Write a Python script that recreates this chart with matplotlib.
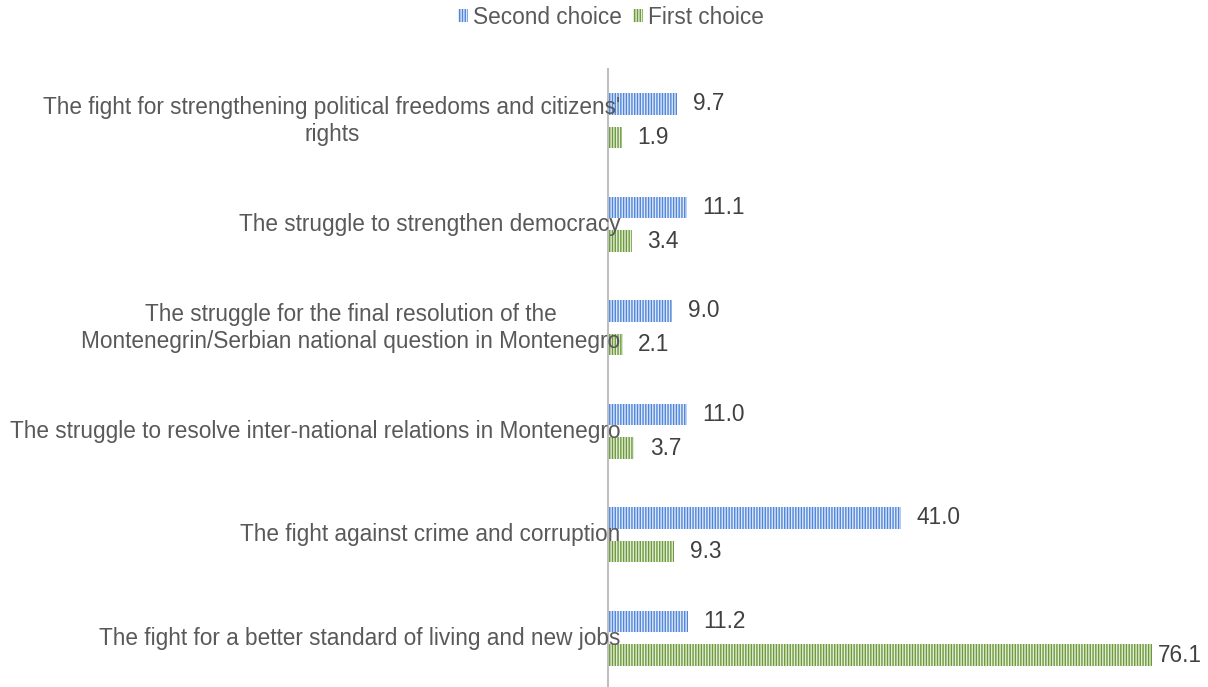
import matplotlib
matplotlib.use('Agg')
from matplotlib import pyplot as plt
import numpy as np

# данные графика (сверху вниз)
categories = [
    "The fight for strengthening political freedoms and citizens'\nrights",
    "The struggle to strengthen democracy",
    "The struggle for the final resolution of the\nMontenegrin/Serbian national question in Montenegro",
    "The struggle to resolve inter-national relations in Montenegro",
    "The fight against crime and corruption",
    "The fight for a better standard of living and new jobs",
]
second_choice = [9.7, 11.1, 9.0, 11.0, 41.0, 11.2]
first_choice = [1.9, 3.4, 2.1, 3.7, 9.3, 76.1]
series_names = ['Second choice', 'First choice']

plt.rcParams['font.family'] = ['Liberation Sans', 'DejaVu Sans']
plt.rcParams['hatch.linewidth'] = 1.0

FS = 16.3
TEXT = '#595959'

fig = plt.figure(figsize=(12.08, 6.87), dpi=100)
ax = fig.add_axes([608 / 1208, -3 / 687, (1180 - 608) / 1208, (690 - 69) / 687])

y = np.arange(len(categories))
h = 0.21
off = 0.163

b1 = ax.barh(y - off, second_choice, height=h, color='#dfe8f7', edgecolor='#4f86dc',
             linewidth=0, hatch='||||||', label=series_names[0])
b2 = ax.barh(y + off, first_choice, height=h, color='#e4edda', edgecolor='#6c9a3a',
             linewidth=0, hatch='||||||', label=series_names[1])

# подписи значений
labels = []
for vals, pos in ((second_choice, y - off), (first_choice, y + off)):
    for v, p in zip(vals, pos):
        t = ax.annotate('%.1f' % v, xy=(v, p), xytext=(11, 0), textcoords='offset points',
                        ha='left', va='center', fontsize=FS, color='#404040')
        labels.append(t)

# подписи категорий
for i, name in enumerate(categories):
    ax.annotate(name, xy=(0, i), xycoords=ax.get_yaxis_transform(), xytext=(9, 0),
                textcoords='offset points', ha='right', va='center',
                multialignment='center', fontsize=FS, color=TEXT)

ax.set_xlim(0, 80)
ax.set_ylim(5.5, -0.5)
ax.set_xticks([])
ax.set_yticks([])
for s in ('top', 'right', 'bottom'):
    ax.spines[s].set_visible(False)
ax.spines['left'].set_color('#bfbfbf')
ax.spines['left'].set_linewidth(1.5)
ax.set_facecolor('none')

fig.legend(handles=[b1, b2], loc='center', bbox_to_anchor=(611 / 1208, 1 - 17 / 687),
           ncol=2, frameon=False, fontsize=FS, labelcolor=TEXT,
           handlelength=0.45, handleheight=0.45, handletextpad=0.2, columnspacing=0.5)

# если подпись вылезает за край картинки - прижимаем её к бару
fig.canvas.draw()
r = fig.canvas.get_renderer()
for t in labels:
    ext = t.get_window_extent(r)
    if ext.x1 > fig.bbox.width - 6:
        t.set_position((4, 0))

fig.savefig('out.png', dpi=100)
